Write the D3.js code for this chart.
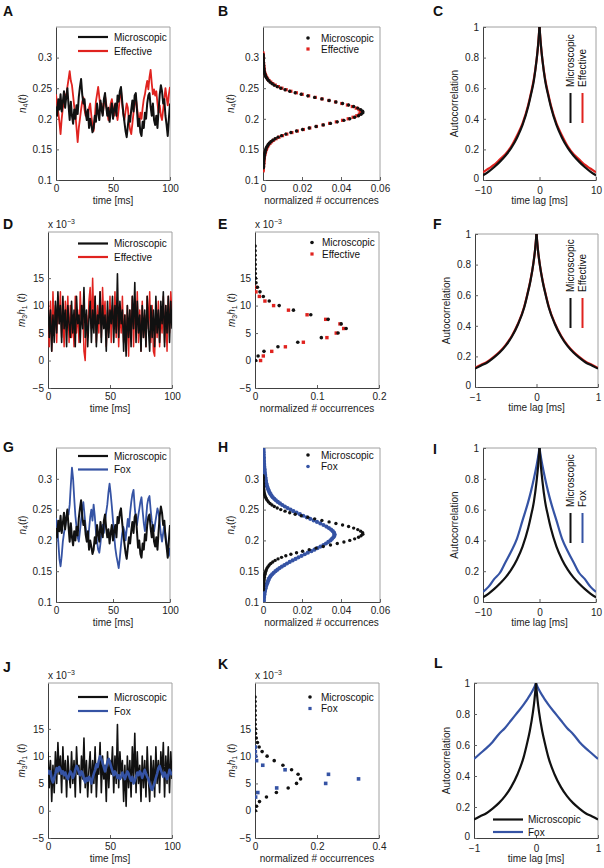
<!DOCTYPE html>
<html><head><meta charset="utf-8">
<script src="https://cdn.jsdelivr.net/npm/d3@7"></script>
<style>
body{margin:0;background:#fff}
svg{display:block}
text{font-family:"Liberation Sans",Arial,Helvetica,sans-serif}
</style></head><body>
<svg id="fig" width="604" height="868"></svg>
<script>
// ================= DATA =================
const colMicro = '#111111', colEff = '#e0231f', colFox = '#3553a4';
const dtMs = 1; // sampling step of time traces (ms)

// n4(t) traces, t = 0..100 ms
const n4Micro = [0.220,0.205,0.232,0.215,0.240,0.212,0.228,0.245,0.218,0.236,0.250,0.222,0.198,0.228,0.205,0.192,0.215,0.200,0.222,0.208,
0.236,0.252,0.265,0.240,0.225,0.232,0.210,0.198,0.215,0.185,0.200,0.190,0.178,0.185,0.205,0.195,0.225,0.210,0.198,0.230,
0.215,0.205,0.232,0.242,0.220,0.205,0.218,0.195,0.212,0.225,0.200,0.215,0.225,0.205,0.238,0.228,0.245,0.252,0.230,0.210,
0.195,0.180,0.170,0.188,0.205,0.195,0.215,0.230,0.212,0.238,0.242,0.215,0.188,0.200,0.178,0.172,0.195,0.185,0.210,0.200,
0.225,0.238,0.242,0.220,0.205,0.225,0.198,0.190,0.205,0.185,0.215,0.240,0.255,0.245,0.225,0.232,0.205,0.190,0.172,0.200,0.225];
const n4Eff = [0.240,0.225,0.210,0.195,0.175,0.200,0.218,0.225,0.240,0.235,0.252,0.265,0.278,0.262,0.255,0.238,0.220,0.208,0.185,0.162,
0.185,0.200,0.215,0.228,0.235,0.215,0.205,0.212,0.200,0.218,0.225,0.205,0.190,0.180,0.200,0.228,0.240,0.252,0.235,0.218,
0.225,0.208,0.222,0.238,0.225,0.210,0.198,0.212,0.225,0.232,0.218,0.205,0.222,0.210,0.198,0.215,0.235,0.248,0.225,0.208,
0.198,0.212,0.225,0.218,0.195,0.182,0.175,0.192,0.210,0.222,0.235,0.220,0.205,0.192,0.210,0.200,0.218,0.232,0.240,0.252,
0.262,0.248,0.268,0.280,0.258,0.240,0.248,0.238,0.245,0.225,0.210,0.222,0.205,0.198,0.215,0.232,0.250,0.235,0.222,0.240,0.252];
const n4Fox = [0.236,0.222,0.198,0.170,0.158,0.175,0.198,0.212,0.222,0.235,0.248,0.242,0.258,0.290,0.318,0.300,0.268,0.240,0.222,0.205,
0.198,0.215,0.232,0.250,0.262,0.242,0.222,0.205,0.198,0.218,0.238,0.250,0.232,0.258,0.240,0.215,0.198,0.185,0.180,0.195,
0.215,0.225,0.212,0.232,0.245,0.258,0.278,0.292,0.275,0.255,0.232,0.208,0.188,0.175,0.165,0.155,0.172,0.192,0.210,0.222,
0.215,0.200,0.218,0.235,0.222,0.245,0.262,0.275,0.282,0.255,0.235,0.225,0.238,0.250,0.262,0.270,0.248,0.228,0.215,0.235,
0.258,0.268,0.272,0.250,0.232,0.222,0.215,0.228,0.240,0.252,0.245,0.228,0.210,0.198,0.212,0.225,0.210,0.195,0.182,0.175,0.188];

// m3h1(t) traces in units of 1e-3, t = 0..100 ms
const m3h1Micro = [10.8,4.2,9.2,1.7,8.3,3.3,10.8,5.0,12.5,6.7,10.0,3.3,11.7,5.8,9.2,2.5,10.0,6.7,4.2,10.8,
5.0,9.2,2.5,11.7,6.7,8.3,3.3,10.0,5.8,13.3,4.2,9.2,2.5,7.5,10.8,3.3,9.2,5.0,11.7,2.5,
8.3,6.7,12.5,3.3,10.0,5.8,8.3,1.7,10.8,4.2,9.2,6.7,11.7,3.3,10.0,5.0,15.8,4.2,10.8,6.7,
9.2,1.7,8.3,0.8,10.0,4.2,9.2,2.5,11.7,5.8,14.2,3.3,10.8,5.0,8.3,1.7,10.0,4.2,9.2,2.5,
11.7,5.8,1.7,10.0,4.2,9.2,2.5,11.7,5.0,9.2,3.3,10.8,6.7,12.5,2.5,10.0,5.0,11.7,3.3,10.8,5.8];
const m3h1Eff = [8.3,2.5,10.8,1.7,12.5,5.0,10.0,3.3,11.7,6.7,12.5,4.2,9.2,2.5,10.8,5.8,11.7,3.3,10.0,4.2,
8.3,2.5,11.7,5.0,9.2,3.3,12.5,6.7,10.0,1.7,0.0,8.3,4.2,10.8,13.3,5.8,15.0,6.7,11.7,3.3,
10.0,5.0,12.5,4.2,13.3,7.5,10.8,2.5,9.2,5.0,11.7,3.3,10.0,5.8,12.5,4.2,10.8,2.5,9.2,5.0,
11.7,3.3,8.3,1.7,10.0,0.8,9.2,4.2,11.7,2.5,10.8,5.0,12.5,3.3,9.2,1.7,10.8,4.2,8.3,2.5,
11.7,5.8,12.5,3.3,10.0,1.7,0.8,9.2,4.2,10.8,2.5,8.3,5.0,11.7,3.3,10.0,1.7,11.7,5.0,12.5,8.3];
const m3h1Fox = [7.5,6.8,7.2,5.8,5.2,6.0,6.8,7.8,7.2,8.0,7.5,6.8,7.2,6.5,7.0,6.2,5.8,6.5,7.2,6.8,
6.0,6.5,7.5,8.2,7.8,7.0,6.5,7.2,6.8,5.8,5.2,6.0,5.5,6.2,5.8,5.0,6.0,6.8,7.5,8.5,
8.0,9.2,10.0,9.5,8.8,8.0,7.2,8.0,9.0,9.5,8.8,8.0,7.2,6.5,7.2,6.8,6.0,6.5,5.8,6.2,
7.0,6.5,5.8,6.5,7.2,6.8,6.0,5.5,6.2,5.0,5.5,6.2,7.0,6.5,7.2,6.8,6.0,6.8,7.5,6.8,
6.2,5.8,5.0,4.2,3.8,4.5,5.2,6.0,6.8,7.8,8.2,7.5,6.8,6.2,7.0,6.5,5.8,6.5,7.5,7.0,6.5];

// n4 histograms
const n4Bins = [0.115,0.1175,0.12,0.1225,0.125,0.1275,0.13,0.1325,0.135,0.1375,0.14,0.1425,0.145,0.1475,0.15,0.1525,0.155,0.1575,0.16,0.1625,
0.165,0.1675,0.17,0.1725,0.175,0.1775,0.18,0.1825,0.185,0.1875,0.19,0.1925,0.195,0.1975,0.2,0.2025,0.205,0.2075,0.21,0.2125,
0.215,0.2175,0.22,0.2225,0.225,0.2275,0.23,0.2325,0.235,0.2375,0.24,0.2425,0.245,0.2475,0.25,0.2525,0.255,0.2575,0.26,0.2625,
0.265,0.2675,0.27,0.2725,0.275,0.2775,0.28,0.2825,0.285,0.2875,0.29,0.2925,0.295,0.2975,0.3,0.3025,0.305,0.3075,0.31];
const n4HistMicro = [null,null,0.0002,0.0002,0.0002,0.0003,0.0003,0.0004,0.0005,0.0006,0.0007,0.0008,0.0010,0.0012,0.0014,0.0017,0.0021,0.0026,0.0032,0.0040,
0.0050,0.0062,0.0077,0.0095,0.0117,0.0143,0.0172,0.0203,0.0237,0.0272,0.0309,0.0346,0.0381,0.0415,0.0445,0.0470,0.0490,0.0503,0.0512,0.0511,
0.0501,0.0486,0.0465,0.0439,0.0408,0.0374,0.0339,0.0302,0.0265,0.0230,0.0196,0.0165,0.0137,0.0113,0.0091,0.0073,0.0058,0.0046,0.0036,0.0028,
0.0022,0.0017,0.0013,0.0010,0.0008,0.0006,0.0005,0.0004,0.0003,0.0003,0.0002,0.0002,0.0001,0.0001,0.0001,0.0001,0.0000,null,null];
const n4HistEff = [0.0001,0.0001,0.0002,0.0003,0.0003,0.0004,0.0004,0.0005,0.0006,0.0007,0.0008,0.0010,0.0012,0.0014,0.0017,0.0020,0.0024,0.0029,0.0036,0.0044,
0.0054,0.0067,0.0082,0.0100,0.0122,0.0148,0.0176,0.0207,0.0240,0.0274,0.0308,0.0342,0.0376,0.0408,0.0437,0.0462,0.0481,0.0494,0.0500,0.0499,
0.0492,0.0478,0.0458,0.0433,0.0404,0.0372,0.0338,0.0303,0.0268,0.0234,0.0201,0.0171,0.0143,0.0119,0.0097,0.0079,0.0063,0.0050,0.0040,0.0031,
0.0024,0.0019,0.0015,0.0012,0.0009,0.0007,0.0006,0.0005,0.0004,0.0003,0.0003,0.0002,0.0002,0.0001,0.0001,0.0001,0.0001,0.0000,null];
const n4BinsFox = [0.1,0.1025,0.105,0.1075,0.11,0.1125,0.115,0.1175,0.12,0.1225,0.125,0.1275,0.13,0.1325,0.135,0.1375,0.14,0.1425,0.145,0.1475,
0.15,0.1525,0.155,0.1575,0.16,0.1625,0.165,0.1675,0.17,0.1725,0.175,0.1775,0.18,0.1825,0.185,0.1875,0.19,0.1925,0.195,0.1975,
0.2,0.2025,0.205,0.2075,0.21,0.2125,0.215,0.2175,0.22,0.2225,0.225,0.2275,0.23,0.2325,0.235,0.2375,0.24,0.2425,0.245,0.2475,
0.25,0.2525,0.255,0.2575,0.26,0.2625,0.265,0.2675,0.27,0.2725,0.275,0.2775,0.28,0.2825,0.285,0.2875,0.29,0.2925,0.295,0.2975,
0.3,0.3025,0.305,0.3075,0.31,0.3125,0.315,0.3175,0.32,0.3225,0.325,0.3275,0.33,0.3325,0.335,0.3375,0.34,0.3425,0.345,0.3475,0.35];
const n4HistFox = [0.0003,0.0004,0.0004,0.0005,0.0006,0.0007,0.0008,0.0009,0.0011,0.0013,0.0015,0.0018,0.0021,0.0024,0.0027,0.0030,0.0035,0.0040,0.0047,0.0055,
0.0064,0.0074,0.0085,0.0097,0.0110,0.0123,0.0137,0.0152,0.0167,0.0182,0.0198,0.0214,0.0230,0.0248,0.0264,0.0280,0.0295,0.0310,0.0323,0.0335,
0.0346,0.0354,0.0361,0.0366,0.0367,0.0364,0.0358,0.0349,0.0338,0.0325,0.0310,0.0294,0.0277,0.0260,0.0242,0.0224,0.0206,0.0189,0.0172,0.0156,
0.0141,0.0126,0.0112,0.0099,0.0087,0.0076,0.0066,0.0058,0.0050,0.0044,0.0039,0.0034,0.0030,0.0027,0.0024,0.0021,0.0019,0.0017,0.0015,0.0014,
0.0013,0.0012,0.0011,0.0010,0.0009,0.0008,0.0008,0.0007,0.0006,0.0006,0.0005,0.0005,0.0004,0.0004,0.0004,0.0003,0.0003,0.0003,0.0003,0.0002,0.0002];

// m3h1 histograms (levels in units of 1e-3)
const m3Levels = [0,0.83,1.67,2.5,3.33,4.17,5,5.83,6.67,7.5,8.33,9.17,10,10.83,11.67,12.5,13.33,14.17,15,15.83,16.67,17.5,18.33,19.17,20,20.83];
const m3HistMicro = [0.001,0.005,0.0145,0.037,0.069,0.107,0.134,0.147,0.139,0.118,0.090,0.062,0.039,0.023,0.0134,0.008,0.004,0.0016,0.0008,0.0004,0.0003,0.0002,0.0001,0.0001,0.0001,0.0001];
const m3HistEff = [0.009,0.0134,0.027,0.049,0.078,0.116,0.131,0.143,0.137,0.114,0.084,0.054,0.030,0.016,0.007,0.0016,0.001,null,null,null,null,null,null,null,null,null];
const m3HistFox = [null,null,null,0.002,0.009,0.070,0.228,0.334,0.237,0.097,0.025,0.005,0.002,0.001,0.001,null,null,null,null,null,null,null,null,null,null,null];

// autocorrelations
const lagsLong = [-10,-9,-8,-7,-6,-5,-4,-3,-2,-1.5,-1,-0.5,-0.25,0,0.25,0.5,1,1.5,2,3,4,5,6,7,8,9,10];
const acMicroLong = [0.03,0.055,0.085,0.12,0.16,0.21,0.275,0.36,0.48,0.56,0.65,0.79,0.88,1,0.88,0.79,0.65,0.56,0.48,0.36,0.275,0.21,0.16,0.12,0.085,0.055,0.03];
const acEffLong = [0.05,0.075,0.10,0.135,0.17,0.22,0.29,0.37,0.49,0.57,0.66,0.79,0.88,1,0.88,0.79,0.66,0.57,0.49,0.37,0.29,0.22,0.17,0.135,0.10,0.075,0.05];
const acFoxLong = [0.065,0.10,0.15,0.19,0.26,0.33,0.41,0.53,0.65,0.72,0.80,0.89,0.94,1,0.94,0.89,0.80,0.72,0.65,0.53,0.41,0.33,0.26,0.19,0.15,0.10,0.065];
const lagsShort = [-1,-0.9,-0.8,-0.7,-0.6,-0.5,-0.4,-0.3,-0.2,-0.15,-0.1,-0.05,-0.025,0,0.025,0.05,0.1,0.15,0.2,0.3,0.4,0.5,0.6,0.7,0.8,0.9,1];
const acMicroShort = [0.12,0.14,0.16,0.19,0.225,0.27,0.33,0.41,0.52,0.60,0.69,0.81,0.89,1,0.89,0.81,0.69,0.60,0.52,0.41,0.33,0.27,0.225,0.19,0.16,0.14,0.12];
const acEffShort = [0.125,0.145,0.165,0.195,0.23,0.275,0.335,0.415,0.525,0.605,0.695,0.81,0.89,1,0.89,0.81,0.695,0.605,0.525,0.415,0.335,0.275,0.23,0.195,0.165,0.145,0.125];
const acFoxShort = [0.51,0.545,0.58,0.62,0.67,0.71,0.76,0.81,0.86,0.89,0.92,0.955,0.975,1,0.975,0.955,0.92,0.89,0.86,0.81,0.76,0.71,0.67,0.62,0.58,0.545,0.51];

// tick values
const tTime = [0,50,100], tN4 = [0.1,0.15,0.2,0.25,0.3], tM3 = [-5,0,5,10,15];
const tHistN4 = [0,0.02,0.04,0.06], tHistM3E = [0,0.1,0.2], tHistM3K = [0,0.2,0.4];
const tAC = [0,0.2,0.4,0.6,0.8,1], tLagLong = [-10,0,10], tLagShort = [-1,0,1];

// ================= DRAWING =================
const svg = d3.select('#fig');
const FF = '"Liberation Sans",Arial,Helvetica,sans-serif';
const fmt = v => String(v).replace('-', '\u2212');
let clipN = 0;

function panel(p) {
  const x = d3.scaleLinear().domain(p.xd).range([p.l, p.r]);
  const y = d3.scaleLinear().domain(p.yd).range([p.b, p.t]);
  const g = svg.append('g');
  const id = 'clip' + (clipN++);
  svg.append('clipPath').attr('id', id).append('rect')
    .attr('x', p.l).attr('y', p.t).attr('width', p.r - p.l).attr('height', p.b - p.t);
  g.append('path').attr('d', `M${p.l},${p.t}H${p.r}V${p.b}`)
    .attr('fill', 'none').attr('stroke', '#a0a0a0').attr('stroke-width', 1);
  const xa = g.append('g').attr('transform', `translate(0,${p.b})`)
    .call(d3.axisBottom(x).tickValues(p.xt).tickFormat(fmt).tickSize(-3).tickSizeOuter(0).tickPadding(p.xpad || 5));
  const ya = g.append('g').attr('transform', `translate(${p.l},0)`)
    .call(d3.axisLeft(y).tickValues(p.yt).tickFormat(fmt).tickSize(-3).tickSizeOuter(0).tickPadding(4));
  [xa, ya].forEach(a => {
    a.attr('font-family', FF).attr('font-size', 10);
    a.select('.domain').attr('stroke', '#404040');
    a.selectAll('.tick line').attr('stroke', '#606060');
    a.selectAll('.tick text').attr('fill', '#222');
  });
  if (p.xpad) ya.selectAll('.tick text').filter(d => d === 0).attr('dy', '0.1em');
  const data = g.append('g').attr('clip-path', `url(#${id})`);
  svg.append('text').attr('x', p.lx).attr('y', p.ly).attr('font-size', 14)
    .attr('font-weight', 'bold').attr('fill', '#111').text(p.letter);
  g.append('text').attr('x', (p.l + p.r) / 2).attr('y', p.b + 24).attr('text-anchor', 'middle')
    .attr('font-size', 10).attr('fill', '#222').text(p.xlabel);
  const yl = g.append('text').attr('transform', `translate(${p.l - p.yoff},${(p.t + p.b) / 2}) rotate(-90)`)
    .attr('text-anchor', 'middle').attr('font-size', 10).attr('fill', '#222');
  if (p.ylabel === 'n4') {
    yl.append('tspan').attr('font-style', 'italic').text('n');
    yl.append('tspan').attr('font-size', 7).attr('dy', 2).text('4');
    yl.append('tspan').attr('dy', -2).text('(');
    yl.append('tspan').attr('font-style', 'italic').text('t');
    yl.append('tspan').text(')');
  } else if (p.ylabel === 'm3h1') {
    yl.append('tspan').attr('font-style', 'italic').text('m');
    yl.append('tspan').attr('font-size', 7).attr('dy', 2).text('3');
    yl.append('tspan').attr('dy', -2).attr('font-style', 'italic').text('h');
    yl.append('tspan').attr('font-size', 7).attr('dy', 2).text('1');
    yl.append('tspan').attr('dy', -2).text(' (');
    yl.append('tspan').attr('font-style', 'italic').text('t');
    yl.append('tspan').text(')');
  } else {
    yl.text(p.ylabel);
  }
  if (p.exp) {
    const t = g.append('text').attr('x', p.l).attr('y', p.t - 4).attr('font-size', 10).attr('fill', '#222');
    t.append('tspan').text('x 10');
    t.append('tspan').attr('font-size', 7).attr('dy', -4).text('\u22123');
  }
  return { x, y, g, data };
}

function traceLine(P, vals, color, w) {
  P.data.append('path').datum(vals)
    .attr('d', d3.line().x((d, i) => P.x(i * dtMs)).y(d => P.y(d)))
    .attr('fill', 'none').attr('stroke', color).attr('stroke-width', w).attr('stroke-linejoin', 'round');
}
function acLine(P, lags, vals, color, w) {
  const pts = lags.map((l, i) => [l, vals[i]]);
  const left = pts.filter(d => d[0] <= 0), right = pts.filter(d => d[0] >= 0);
  const lg = d3.line().x(d => P.x(d[0])).y(d => P.y(d[1])).curve(d3.curveMonotoneX);
  [left, right].forEach(part => P.data.append('path').datum(part).attr('d', lg)
    .attr('fill', 'none').attr('stroke', color).attr('stroke-width', w));
}
function histDots(P, bins, vals, color, shape, size) {
  const pts = bins.map((b, i) => [vals[i], b]).filter(d => d[0] !== null);
  if (shape === 'sq') {
    P.data.selectAll(null).data(pts).enter().append('rect')
      .attr('x', d => P.x(d[0]) - size / 2).attr('y', d => P.y(d[1]) - size / 2)
      .attr('width', size).attr('height', size).attr('fill', color);
  } else {
    P.data.selectAll(null).data(pts).enter().append('circle')
      .attr('cx', d => P.x(d[0])).attr('cy', d => P.y(d[1])).attr('r', size).attr('fill', color);
  }
}
function legendLines(items, x0, x1, tx) {
  items.forEach(it => {
    svg.append('line').attr('x1', x0).attr('x2', x1).attr('y1', it.y).attr('y2', it.y)
      .attr('stroke', it.c).attr('stroke-width', 2.2);
    svg.append('text').attr('x', tx).attr('y', it.y + 3.5).attr('font-size', 10).attr('fill', '#111').text(it.t);
  });
}
function legendDots(items, mx, tx) {
  items.forEach(it => {
    if (it.sq) svg.append('rect').attr('x', mx - 1.6).attr('y', it.y - 1.6).attr('width', 3.2).attr('height', 3.2).attr('fill', it.c);
    else svg.append('circle').attr('cx', mx).attr('cy', it.y).attr('r', 1.8).attr('fill', it.c);
    svg.append('text').attr('x', tx).attr('y', it.y + 3.5).attr('font-size', 10).attr('fill', '#111').text(it.t);
  });
}
function legendVert(items, textBottom, lineTop, lineBot) {
  items.forEach(it => {
    svg.append('text').attr('transform', `translate(${it.x + 3},${textBottom}) rotate(-90)`)
      .attr('font-size', 10).attr('fill', '#111').text(it.t);
    svg.append('line').attr('x1', it.x).attr('x2', it.x).attr('y1', lineTop).attr('y2', lineBot)
      .attr('stroke', it.c).attr('stroke-width', 2);
  });
}

// ---- Row 1 ----
const A = panel({l:56,r:170,t:27,b:180,xd:[0,100],yd:[0.1,0.35],xt:tTime,yt:tN4,letter:'A',lx:3,ly:16,xlabel:'time [ms]',ylabel:'n4',yoff:30});
traceLine(A, n4Eff, colEff, 1.8);
traceLine(A, n4Micro, colMicro, 2);
legendLines([{y:37,c:colMicro,t:'Microscopic'},{y:51,c:colEff,t:'Effective'}], 78, 108, 114);

const B = panel({l:263,r:380,t:27,b:180,xd:[0,0.06],yd:[0.1,0.35],xt:tHistN4,yt:tN4,letter:'B',lx:218,ly:16,xlabel:'normalized # occurrences',ylabel:'n4',yoff:29});
histDots(B, n4Bins, n4HistEff, colEff, 'sq', 3.2);
histDots(B, n4Bins, n4HistMicro, colMicro, 'c', 1.7);
legendDots([{y:38,c:colMicro,t:'Microscopic'},{y:49,c:colEff,t:'Effective',sq:true}], 308, 321);

const C = panel({l:483,r:596,t:27,b:180,xd:[-10,10],yd:[0,1],xt:tLagLong,yt:tAC,letter:'C',lx:433,ly:16,xlabel:'time lag [ms]',ylabel:'Autocorrelation',yoff:25,xpad:7});
acLine(C, lagsLong, acEffLong, colEff, 2.2);
acLine(C, lagsLong, acMicroLong, colMicro, 2.2);
legendVert([{x:570.5,c:colMicro,t:'Microscopic'},{x:582.5,c:colEff,t:'Effective'}], 87, 93, 123);

// ---- Row 2 ----
const D = panel({l:48,r:172,t:232,b:388,xd:[0,100],yd:[-5,23.4],xt:tTime,yt:tM3,letter:'D',lx:3,ly:229,xlabel:'time [ms]',ylabel:'m3h1',yoff:23,exp:true});
traceLine(D, m3h1Eff, colEff, 1.5);
traceLine(D, m3h1Micro, colMicro, 1.6);
legendLines([{y:243.5,c:colMicro,t:'Microscopic'},{y:257,c:colEff,t:'Effective'}], 78, 108, 114);

const E = panel({l:255,r:379,t:232,b:388,xd:[0,0.2],yd:[-5,23.4],xt:tHistM3E,yt:tM3,letter:'E',lx:218,ly:229,xlabel:'normalized # occurrences',ylabel:'m3h1',yoff:20,exp:true});
histDots(E, m3Levels, m3HistEff, colEff, 'sq', 3.4);
histDots(E, m3Levels, m3HistMicro, colMicro, 'c', 1.8);
legendDots([{y:242.5,c:colMicro,t:'Microscopic'},{y:254,c:colEff,t:'Effective',sq:true}], 312, 322);

const F = panel({l:475,r:598,t:234,b:387,xd:[-1,1],yd:[0,1],xt:tLagShort,yt:tAC,letter:'F',lx:433,ly:229,xlabel:'time lag [ms]',ylabel:'Autocorrelation',yoff:25,xpad:7});
acLine(F, lagsShort, acEffShort, colEff, 2.2);
acLine(F, lagsShort, acMicroShort, colMicro, 2.2);
legendVert([{x:570.5,c:colMicro,t:'Microscopic'},{x:582.5,c:colEff,t:'Effective'}], 292, 298, 328);

// ---- Row 3 ----
const G = panel({l:56,r:170,t:448,b:602,xd:[0,100],yd:[0.1,0.35],xt:tTime,yt:tN4,letter:'G',lx:3,ly:452,xlabel:'time [ms]',ylabel:'n4',yoff:30});
traceLine(G, n4Fox, colFox, 1.8);
traceLine(G, n4Micro, colMicro, 2);
legendLines([{y:456,c:colMicro,t:'Microscopic'},{y:469.5,c:colFox,t:'Fox'}], 78, 108, 114);

const H = panel({l:263,r:380,t:448,b:602,xd:[0,0.06],yd:[0.1,0.35],xt:tHistN4,yt:tN4,letter:'H',lx:218,ly:452,xlabel:'normalized # occurrences',ylabel:'n4',yoff:29});
histDots(H, n4BinsFox, n4HistFox, colFox, 'c', 2.1);
histDots(H, n4Bins, n4HistMicro, colMicro, 'c', 1.7);
legendDots([{y:455,c:colMicro,t:'Microscopic'},{y:466.5,c:colFox,t:'Fox'}], 308, 321);

const I = panel({l:483,r:596,t:448,b:602,xd:[-10,10],yd:[0,1],xt:tLagLong,yt:tAC,letter:'I',lx:433,ly:454,xlabel:'time lag [ms]',ylabel:'Autocorrelation',yoff:25,xpad:7});
acLine(I, lagsLong, acFoxLong, colFox, 2.2);
acLine(I, lagsLong, acMicroLong, colMicro, 2.2);
legendVert([{x:570.5,c:colMicro,t:'Microscopic'},{x:582.5,c:colFox,t:'Fox'}], 507, 513, 543);

// ---- Row 4 ----
const J = panel({l:48,r:172,t:683,b:838,xd:[0,100],yd:[-5,23.4],xt:tTime,yt:tM3,letter:'J',lx:3,ly:672,xlabel:'time [ms]',ylabel:'m3h1',yoff:23,exp:true});
traceLine(J, m3h1Micro, colMicro, 1.6);
traceLine(J, m3h1Fox, colFox, 2.6);
legendLines([{y:697,c:colMicro,t:'Microscopic'},{y:711,c:colFox,t:'Fox'}], 78, 108, 114);

const K = panel({l:255,r:379,t:683,b:838,xd:[0,0.4],yd:[-5,23.4],xt:tHistM3K,yt:tM3,letter:'K',lx:218,ly:669,xlabel:'normalized # occurrences',ylabel:'m3h1',yoff:20,exp:true});
histDots(K, m3Levels, m3HistMicro, colMicro, 'c', 1.8);
histDots(K, m3Levels, m3HistFox, colFox, 'sq', 3.6);
legendDots([{y:697,c:colMicro,t:'Microscopic'},{y:708.5,c:colFox,t:'Fox',sq:true}], 310, 321);

const L = panel({l:474,r:598,t:683,b:838,xd:[-1,1],yd:[0,1],xt:tLagShort,yt:tAC,letter:'L',lx:434,ly:668,xlabel:'time lag [ms]',ylabel:'Autocorrelation',yoff:24,xpad:7});
acLine(L, lagsShort, acFoxShort, colFox, 2.2);
acLine(L, lagsShort, acMicroShort, colMicro, 2.2);
legendLines([{y:819.5,c:colMicro,t:'Microscopic'},{y:832,c:colFox,t:'Fox'}], 493, 523, 528);
</script></body></html>
